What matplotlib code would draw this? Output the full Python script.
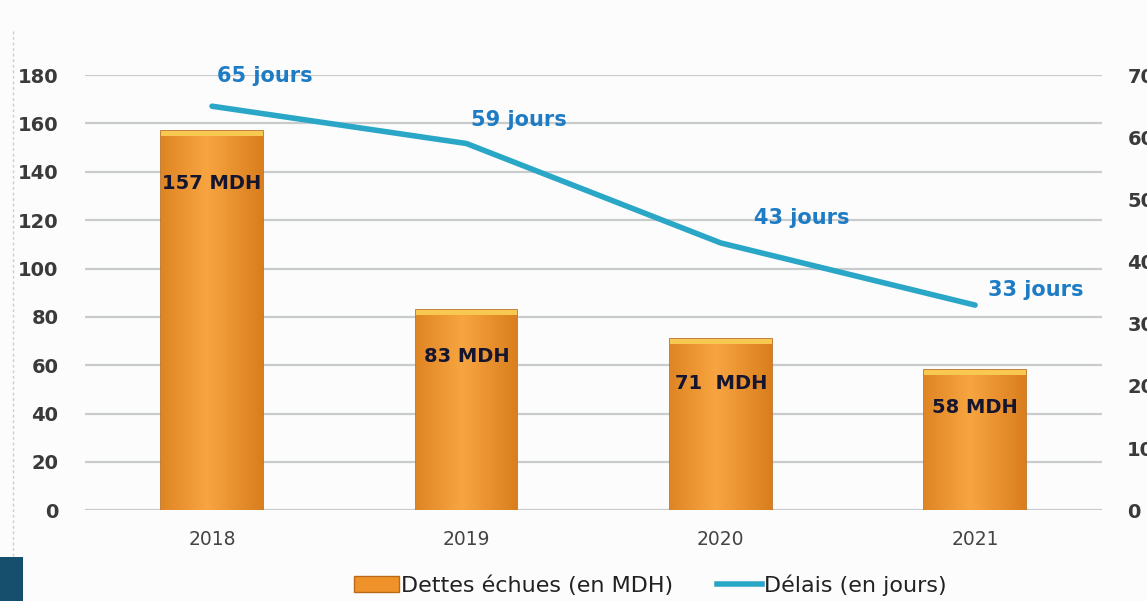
import matplotlib.pyplot as plt
import numpy as np
from matplotlib.patches import Rectangle
from matplotlib.lines import Line2D
from matplotlib.colors import LinearSegmentedColormap

# Données
annees = ["2018", "2019", "2020", "2021"]
dettes = [157, 83, 71, 58]
delais = [65, 59, 43, 33]
etiquettes_dettes = ["157 MDH", "83 MDH", "71  MDH", "58 MDH"]
etiquettes_delais = ["65 jours", "59 jours", "43 jours", "33 jours"]

orange = "#F0922A"
bleu_ligne = "#2AA7C6"
bleu_texte = "#1E7CC4"
gris_texte = "#3a3a3a"

plt.rcParams["font.family"] = ["DejaVu Sans"]

fig = plt.figure(figsize=(11.47, 6.01), dpi=100)
fig.patch.set_facecolor("#fcfcfc")
ax = fig.add_axes([0.074, 0.151, 0.887, 0.724])
ax.set_facecolor("#fcfcfc")

x = np.arange(len(annees))
barres = ax.bar(x, dettes, width=0.4, color=orange, edgecolor="#B86A18",
                linewidth=1.2, zorder=2)

# léger dégradé horizontal sur les barres
cmap_barre = LinearSegmentedColormap.from_list("o", ["#DA7E1E", "#F7A540"])
grad = np.linspace(0, 1, 64).reshape(1, -1)
grad = 1 - np.abs(grad - 0.45) * 1.8
for b in barres:
    x0, w, h = b.get_x(), b.get_width(), b.get_height()
    im = ax.imshow(grad, extent=[x0, x0 + w, 0, h], cmap=cmap_barre,
                   aspect="auto", zorder=2.1)
    im.set_clip_path(b)
    # bord supérieur jaune
    ax.add_patch(Rectangle((x0, h - 2.2), w, 2.2, color="#F8C850", zorder=2.2, lw=0))

ax.set_xlim(-0.5, 3.5)
ax.set_ylim(0, 180)
ax.set_yticks(range(0, 181, 20))
ax.set_xticks(x)
ax.set_xticklabels(annees)
ax.grid(axis="y", color="#c9cccc", linewidth=1.6, zorder=0)
for s in ax.spines.values():
    s.set_visible(False)
ax.tick_params(axis="y", length=0, pad=19, labelsize=14, labelcolor=gris_texte)
ax.tick_params(axis="x", length=0, pad=14, labelsize=13.5, labelcolor="#444444")
for t in ax.get_yticklabels():
    t.set_fontweight("bold")

decalages_barres = [-38, -34, -32, -27]
for xi, v, lab, d in zip(x, dettes, etiquettes_dettes, decalages_barres):
    ax.annotate(lab, (xi, v), xytext=(0, d), textcoords="offset points",
                ha="center", va="center", fontsize=14, fontweight="bold",
                color="#151530", zorder=4)

ax2 = ax.twinx()
ax2.set_ylim(0, 70)
ax2.set_yticks(range(0, 71, 10))
ax2.plot(x, delais, color=bleu_ligne, linewidth=4, solid_capstyle="round", zorder=3)
for s in ax2.spines.values():
    s.set_visible(False)
ax2.tick_params(axis="y", length=0, pad=18, labelsize=14, labelcolor=gris_texte)
for t in ax2.get_yticklabels():
    t.set_fontweight("bold")

decalages = [(38, 22), (38, 17), (58, 18), (44, 11)]
for xi, v, lab, d in zip(x, delais, etiquettes_delais, decalages):
    ax2.annotate(lab, (xi, v), xytext=d, textcoords="offset points",
                 ha="center", va="center", fontsize=15, fontweight="bold",
                 color=bleu_texte, annotation_clip=False)

# légende
poignees = [Rectangle((0, 0), 1, 1, facecolor=orange, edgecolor="#B86A18"),
            Line2D([0], [0], color=bleu_ligne, linewidth=4)]
fig.legend(poignees, ["Dettes échues (en MDH)", "Délais (en jours)"],
           loc="center", bbox_to_anchor=(0.567, 0.027), ncol=2, frameon=False,
           fontsize=16, handlelength=2.0, columnspacing=2.0, handletextpad=0.1,
           labelcolor="#222222")

# bordure pointillée à gauche et pavé bleu
fig.add_artist(Line2D([0.011, 0.011], [0.075, 0.95], color="#cccccc",
                      linewidth=1, linestyle=(0, (2, 2))))
fig.add_artist(Rectangle((0, 0), 0.02, 0.073, color="#164E6E", lw=0))

fig.savefig("out.png", dpi=100, facecolor=fig.get_facecolor())
